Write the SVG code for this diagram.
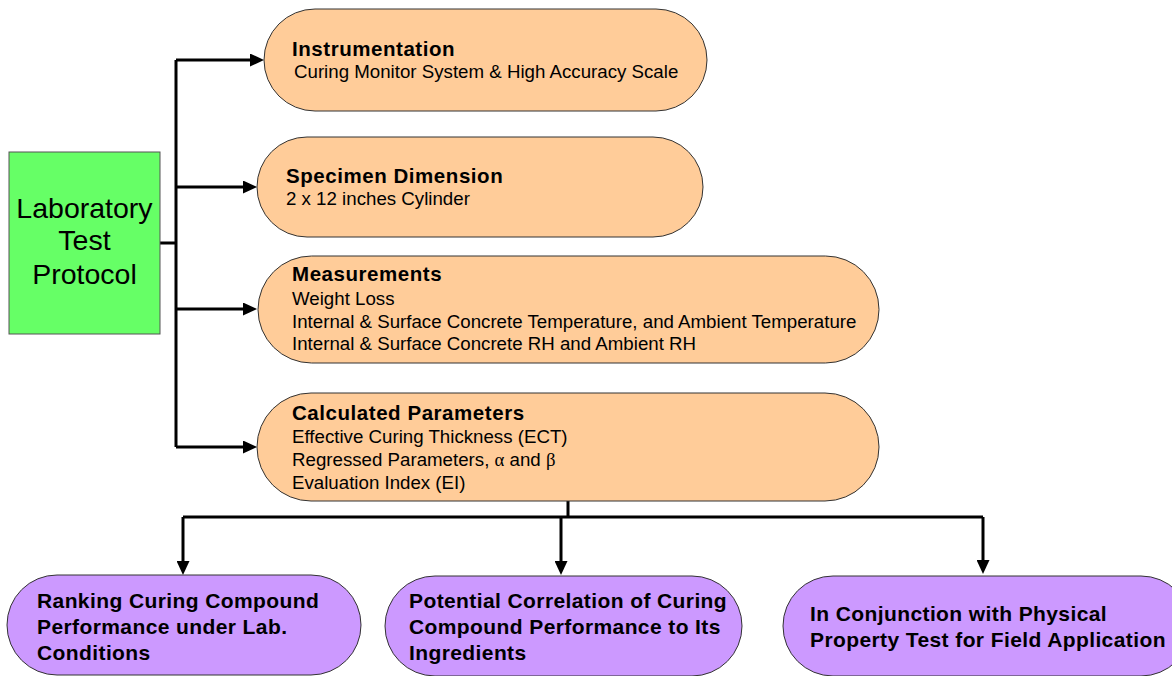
<svg xmlns="http://www.w3.org/2000/svg" width="1172" height="676" viewBox="0 0 1172 676">
<style>
.pill-o{fill:#FFCC99;stroke:#333333;stroke-width:1}
.pill-p{fill:#CC99FF;stroke:#333333;stroke-width:1}
.box-g{fill:#66FF66;stroke:#555555;stroke-width:1}
.t{font-family:"Liberation Sans",Arial,sans-serif;fill:#000}
.h{font-size:20.5px;font-weight:bold;letter-spacing:0.55px}
.r{font-size:18.7px}
.b{font-size:21px;font-weight:bold;letter-spacing:0.4px}
.g{font-size:28.5px;text-anchor:middle}
.c{fill:none;stroke:#000;stroke-width:3}
.sym{font-family:"Liberation Serif","DejaVu Serif",serif}
</style>
<defs>
<marker id="ah" markerUnits="userSpaceOnUse" markerWidth="14" markerHeight="13" refX="6" refY="6.5" orient="auto">
<path d="M0,0 L14,6.5 L0,13 z" fill="#000"/>
</marker>
</defs>
<rect width="1172" height="676" fill="#fff"/>
<g id="connectors">
<path class="c" d="M160,243 H176"/>
<path class="c" d="M176,60 V447"/>
<path class="c" d="M176,60 H256" marker-end="url(#ah)"/>
<path class="c" d="M176,187 H249" marker-end="url(#ah)"/>
<path class="c" d="M176,309 H249" marker-end="url(#ah)"/>
<path class="c" d="M176,447 H249" marker-end="url(#ah)"/>
<path class="c" d="M568,501 V517"/>
<path class="c" d="M183,517 H983"/>
<path class="c" d="M183,517 V567" marker-end="url(#ah)"/>
<path class="c" d="M561,517 V567" marker-end="url(#ah)"/>
<path class="c" d="M983,517 V566" marker-end="url(#ah)"/>
</g>
<g id="lab">
<rect class="box-g" x="9" y="152" width="151" height="182"/>
<text class="t g" x="84.5" y="218">Laboratory</text>
<text class="t g" x="84.5" y="250">Test</text>
<text class="t g" x="84.5" y="284">Protocol</text>
</g>
<g id="instrumentation">
<rect class="pill-o" x="264" y="9" width="443" height="102" rx="51"/>
<text class="t h" x="292" y="56">Instrumentation</text>
<text class="t r" x="294" y="78">Curing Monitor System &amp; High Accuracy Scale</text>
</g>
<g id="specimen">
<rect class="pill-o" x="257" y="137" width="446" height="100" rx="50"/>
<text class="t h" x="286" y="183">Specimen Dimension</text>
<text class="t r" x="286" y="205">2 x 12 inches Cylinder</text>
</g>
<g id="measurements">
<rect class="pill-o" x="258" y="256" width="621" height="107" rx="53.5"/>
<text class="t h" x="292" y="281">Measurements</text>
<text class="t r" x="292" y="305">Weight Loss</text>
<text class="t r" x="292" y="328">Internal &amp; Surface Concrete Temperature, and Ambient Temperature</text>
<text class="t r" x="292" y="350">Internal &amp; Surface Concrete RH and Ambient RH</text>
</g>
<g id="calculated">
<rect class="pill-o" x="257" y="393" width="622" height="108" rx="54"/>
<text class="t h" x="292" y="420">Calculated Parameters</text>
<text class="t r" x="292" y="443">Effective Curing Thickness (ECT)</text>
<text class="t r" x="292" y="466">Regressed Parameters, <tspan class="sym">α</tspan> and <tspan class="sym">β</tspan></text>
<text class="t r" x="292" y="489">Evaluation Index (EI)</text>
</g>
<g id="ranking">
<rect class="pill-p" x="7" y="575" width="354" height="100" rx="50"/>
<text class="t b" x="37" y="608">Ranking Curing Compound</text>
<text class="t b" x="37" y="634">Performance under Lab.</text>
<text class="t b" x="37" y="660">Conditions</text>
</g>
<g id="correlation">
<rect class="pill-p" x="385" y="576" width="357" height="100" rx="50"/>
<text class="t b" x="409" y="608">Potential Correlation of Curing</text>
<text class="t b" x="409" y="634">Compound Performance to Its</text>
<text class="t b" x="409" y="660">Ingredients</text>
</g>
<g id="conjunction">
<rect class="pill-p" x="783" y="576" width="408" height="100" rx="50"/>
<text class="t b" x="810" y="621">In Conjunction with Physical</text>
<text class="t b" x="810" y="647">Property Test for Field Application</text>
</g>
</svg>
